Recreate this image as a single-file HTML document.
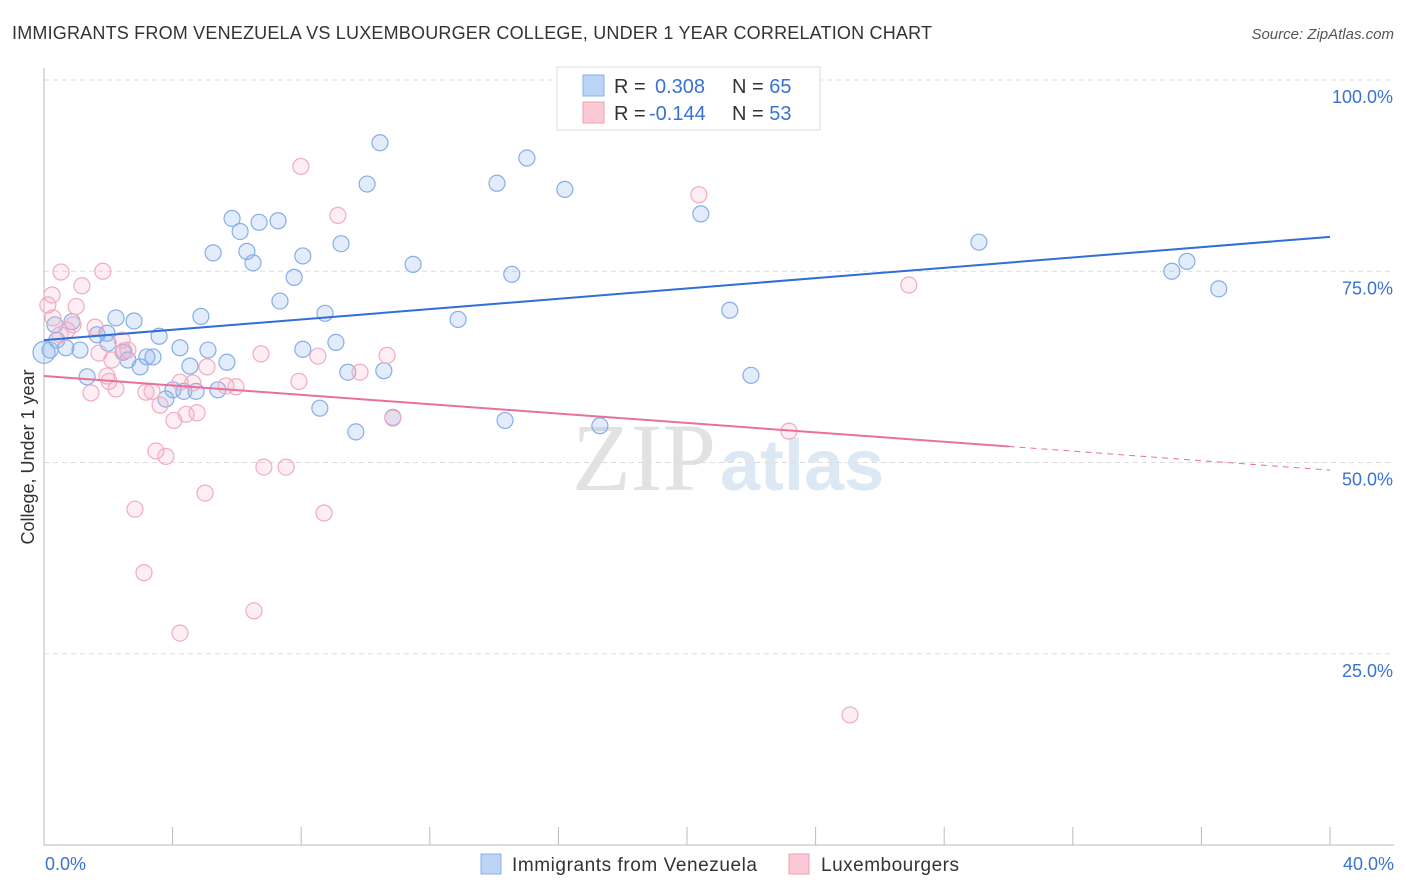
<!DOCTYPE html>
<html><head><meta charset="utf-8"><style>
body{margin:0;background:#fff;font-family:"Liberation Sans",sans-serif}
svg{display:block}
</style></head><body>
<svg id="c" width="1406" height="892">
<text x="12" y="39" font-size="18" fill="#333" textLength="920">IMMIGRANTS FROM VENEZUELA VS LUXEMBOURGER COLLEGE, UNDER 1 YEAR CORRELATION CHART</text>
<text x="1394" y="39" font-size="15" fill="#555" text-anchor="end" font-style="italic">Source: ZipAtlas.com</text>
<text x="716" y="490" font-size="96" fill="#e2e2e2" text-anchor="end" font-family="Liberation Serif">ZIP</text>
<text x="720" y="490" font-size="72" fill="#dde8f5" font-weight="bold">atlas</text>
<g id="grid"></g>
<g id="marks"></g>
<text transform="translate(34,457) rotate(-90)" font-size="18" fill="#333" text-anchor="middle">College, Under 1 year</text>
<g>
<rect x="557" y="67" width="263" height="63" fill="#fff" stroke="#ddd"/>
<rect x="583" y="75" width="21" height="21" fill="#bcd4f5" stroke="#8ab0e6"/>
<rect x="583" y="102" width="21" height="21" fill="#fbc8d6" stroke="#f0a0b8"/>
<text x="614" y="93" font-size="20" fill="#333">R = <tspan fill="#3a72d0" x="655">0.308</tspan><tspan x="732" fill="#333">N = </tspan><tspan fill="#3a72d0">65</tspan></text>
<text x="614" y="120" font-size="20" fill="#333">R = <tspan fill="#3a72d0" x="649">-0.144</tspan><tspan x="732" fill="#333">N = </tspan><tspan fill="#3a72d0">53</tspan></text>
</g>
<g>
<rect x="481" y="854" width="20" height="20" fill="#bcd4f5" stroke="#8ab0e6"/>
<text x="512" y="871" font-size="19" fill="#333" textLength="245">Immigrants from Venezuela</text>
<rect x="789" y="854" width="20" height="20" fill="#fbc8d6" stroke="#f0a0b8"/>
<text x="821" y="871" font-size="19" fill="#333" textLength="138">Luxembourgers</text>
</g>
</svg>
<script>
const xTickLabels=["0.0%","40.0%"];
const yTicks=[25,50,75,100];
const yTickLabels=["25.0%","50.0%","75.0%","100.0%"];
const blueX=[0.19,0.40,0.68,0.87,1.12,1.34,1.65,1.96,1.99,2.24,2.46,2.61,2.80,2.99,3.20,3.39,3.58,3.79,4.01,4.23,4.35,4.54,4.73,4.88,5.10,5.26,5.41,5.69,5.85,6.10,6.31,6.50,6.69,7.28,7.34,7.78,8.05,8.05,8.58,8.74,9.08,9.24,9.45,9.70,10.05,10.45,10.57,10.85,11.48,12.88,14.09,14.34,14.55,15.02,16.20,17.29,20.43,21.33,21.99,29.08,35.08,35.55,36.54,0,0.34];
const blueY=[64.7,66.0,65.0,68.4,64.7,61.2,66.7,66.9,65.6,68.9,64.4,63.4,68.5,62.5,63.8,63.8,66.5,58.3,59.5,65.0,59.3,62.6,59.3,69.1,64.7,77.4,59.5,63.1,81.9,80.2,77.6,76.1,81.4,81.6,71.1,74.2,77.0,64.8,57.1,69.5,65.7,78.6,61.8,54.0,86.4,91.8,62.0,55.9,75.9,68.7,86.5,55.5,74.6,89.8,85.7,54.8,82.5,69.9,61.4,78.8,75.0,76.3,72.7,64.4,68.0];
const pinkX=[0.28,0.53,0.72,0.90,1.18,1.46,1.59,1.71,1.83,2.02,2.11,2.24,2.43,2.49,2.83,3.11,3.17,3.36,3.48,3.79,4.04,4.23,4.23,4.42,4.63,4.76,5.01,5.07,5.66,5.97,6.53,6.75,6.84,7.53,7.93,7.99,8.52,8.71,9.14,9.83,10.67,10.85,20.37,23.17,25.07,26.90,0.25,0.12,1.00,1.96,2.61,0.50,3.61];
const pinkY=[68.9,74.9,67.3,68.0,73.1,59.1,67.7,64.3,75.0,60.6,63.4,59.6,66.0,64.6,43.9,35.6,59.2,59.3,51.5,50.8,55.5,60.5,27.7,56.3,60.4,56.5,46.0,62.5,60.0,59.9,30.6,64.2,49.4,49.4,60.6,88.7,63.9,43.4,82.3,61.8,64.0,55.8,85.0,54.1,17.0,73.2,71.9,70.6,70.4,61.3,64.7,66.7,57.5];
const blueTrend=[66.0,79.5];
const pinkTrend=[61.3,52.1,49.0];
const X0=44,X1=1330,Y0=845,Y100=80;
const sx=v=>X0+(X1-X0)*v/40, sy=v=>Y0-(Y0-Y100)*v/100;
const NS="http://www.w3.org/2000/svg";
const grid=document.getElementById('grid'), marks=document.getElementById('marks');
function mk(tag,attrs,parent){const e=document.createElementNS(NS,tag);for(const k in attrs)e.setAttribute(k,attrs[k]);parent.appendChild(e);return e;}
yTicks.forEach((t,i)=>{
 const l=mk('line',{x1:X0,x2:1394,y1:sy(t),y2:sy(t),stroke:'#ddd','stroke-dasharray':'5,4'},grid);
 
 
 const tx=mk('text',{x:1393,y:sy(t)+23,'font-size':18,fill:'#3a72d0','text-anchor':'end'},grid);
 tx.textContent=yTickLabels[i];
 
 
});
const ax=mk('line',{x1:X0,x2:X0,y1:68,y2:Y0,stroke:'#bbb'},grid);


const bx=mk('line',{x1:X0,x2:1394,y1:Y0,y2:Y0,stroke:'#bbb'},grid);


for(let i=1;i<=10;i++){const t=mk('line',{x1:sx(i*4),x2:sx(i*4),y1:827,y2:Y0,stroke:'#bbb'},grid);
 
 }
[[0,'start',45],[40,'end',1394]].forEach((d,i)=>{const t=mk('text',{x:d[2],y:870,'font-size':18,fill:'#3a72d0','text-anchor':d[1]},grid);t.textContent=xTickLabels[i];
 
 });
function pts(xs,ys,fill,stroke,name){xs.forEach((x,i)=>{const c=mk('circle',{cx:sx(x),cy:sy(ys[i]),r:(x===0?11:8),fill:fill,stroke:stroke,'stroke-width':1.2},marks);
 
 });}
pts(blueX,blueY,'rgba(140,180,235,0.25)','#86aee6','venezuela-point');
pts(pinkX,pinkY,'rgba(245,170,195,0.2)','#f2abc1','luxembourger-point');
const bt=mk('line',{x1:sx(0),y1:sy(blueTrend[0]),x2:sx(40),y2:sy(blueTrend[1]),stroke:'#2f6fd6','stroke-width':2},marks);


const pt=mk('line',{x1:sx(0),y1:sy(pinkTrend[0]),x2:sx(30),y2:sy(pinkTrend[1]),stroke:'#e8709a','stroke-width':2},marks);


const pd=mk('line',{x1:sx(30),y1:sy(pinkTrend[1]),x2:sx(40),y2:sy(pinkTrend[2]),stroke:'#e8709a','stroke-width':1,'stroke-dasharray':'6,5'},marks);


</script>
</body></html>
